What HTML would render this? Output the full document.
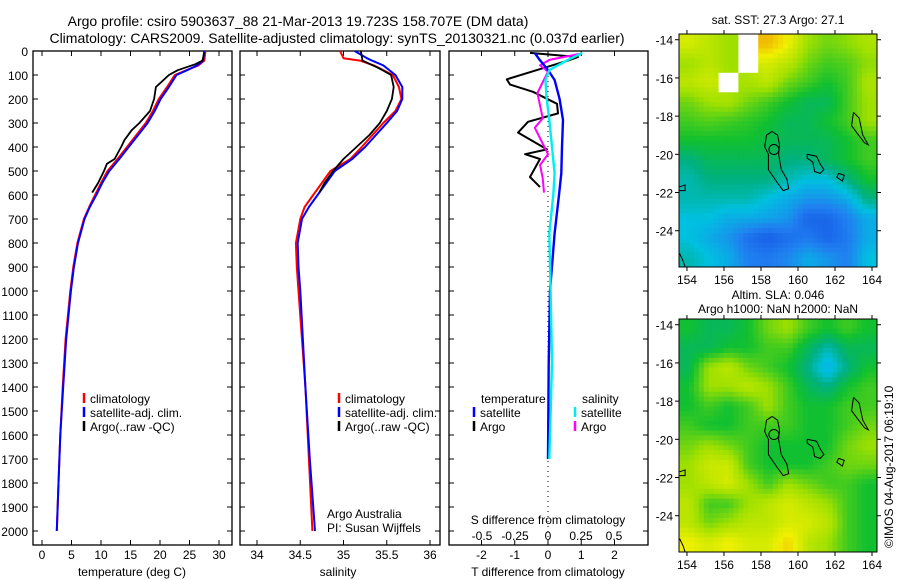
<!DOCTYPE html>
<html><head><meta charset="utf-8">
<style>
html,body{margin:0;padding:0;background:#fff;}
svg{display:block;font-family:"Liberation Sans","DejaVu Sans",sans-serif;}
text{fill:#000;}
</style></head>
<body>
<svg id="fig" width="900" height="580" viewBox="0 0 900 580" xmlns="http://www.w3.org/2000/svg">
<text x="298" y="26" font-size="14" text-anchor="middle">Argo profile: csiro 5903637_88 21-Mar-2013 19.723S 158.707E (DM data)</text>
<text x="337" y="43" font-size="14" text-anchor="middle">Climatology: CARS2009. Satellite-adjusted climatology: synTS_20130321.nc (0.037d earlier)</text>
<g id="g1"></g>
<g id="g2"></g>
<g id="g3"></g>
<g id="m1"></g>
<g id="m2"></g>
<text x="778" y="24" font-size="12" text-anchor="middle">sat. SST: 27.3 Argo: 27.1</text>
<text x="778" y="299" font-size="12" text-anchor="middle">Altim. SLA: 0.046</text>
<text x="778" y="313" font-size="12" text-anchor="middle">Argo h1000: NaN h2000: NaN</text>
<text transform="translate(893,548) rotate(-90)" font-size="12">©IMOS 04-Aug-2017 06:19:10</text>
</svg>
<script>
// ---- data ----
const depthTicks=[0,100,200,300,400,500,600,700,800,900,1000,1100,1200,1300,1400,1500,1600,1700,1800,1900,2000];
const tempTicks=[0,5,10,15,20,25,30];
const salTicks=[34,34.5,35,35.5,36];
const tdTicks=[-2,-1,0,1,2];
const sdTicks=[-0.5,-0.25,0,0.25,0.5];
const sdTickLabels=["-0.5","-0.25","0","0.25","0.5"];
const climTdepth=[0,40,60,80,100,150,200,250,300,350,400,450,500,550,600,650,700,800,900,1000,1200,1400,1600,1800,2000];
const climT=[27.7,27.5,26.5,24.5,22.5,21.2,19.8,18.8,17.6,16,14.4,12.8,11.1,10,9,8,7.1,6,5.3,4.8,4,3.5,3.1,2.8,2.5];
const satT=[27.5,27.3,26.3,24.6,22.8,21.5,20.1,19.1,17.9,16.3,14.7,13.1,11.4,10.2,9.2,8.1,7.2,6.1,5.4,4.9,4.1,3.6,3.1,2.8,2.5];
const argoTdepth=[5,40,55,80,100,130,150,200,250,300,330,370,400,450,470,500,550,590];
const argoT=[27.5,27.2,26,23,21.5,20.2,19.3,19,18.3,16.5,15.2,14,13.4,12.3,11,10.5,9.5,8.5];
const salDepth=[0,30,40,60,100,150,200,250,300,400,450,500,600,650,700,800,900,1000,1400,1700,2000];
const climS=[34.96,35.0,35.19,35.35,35.57,35.64,35.67,35.6,35.46,35.21,35.08,34.85,34.65,34.55,34.5,34.45,34.46,34.48,34.56,34.6,34.64];
const satS=[35.13,35.27,35.33,35.46,35.6,35.68,35.68,35.62,35.5,35.25,35.1,34.9,34.7,34.6,34.52,34.47,34.48,34.5,34.56,34.61,34.67];
const argoSdepth=[0,40,70,100,150,200,250,300,350,400,450,500,550,590];
const argoS=[35.2,35.22,35.4,35.55,35.58,35.56,35.5,35.42,35.3,35.15,35.0,34.88,34.78,34.72];
const diffDepth=[8,37,79,121,200,287,400,510,600,760,1000,1300,1700];
const satTdiff=[-0.4,-0.25,0,0.2,0.35,0.45,0.42,0.4,0.33,0.2,0.06,0.02,0];
const satSdiff=[0.26,0.15,0.01,-0.02,-0.01,0.01,0.03,0.05,0.04,0.01,0.02,0.03,0.01];
const argoTdDepth=[8,25,40,76,118,140,170,220,260,295,340,410,430,450,525,567];
const argoTdiff=[-0.54,0.9,0.6,-0.25,-1.24,-1.14,-0.45,0.27,0.3,-0.6,-0.9,-0.03,-0.69,-0.24,-0.54,-0.24];
const argoSdDepth=[12,37,60,86,175,280,320,430,475,530,590];
const argoSdiff=[0.24,0.01,-0.06,0,-0.08,-0.04,-0.1,0,-0.06,-0.04,-0.03];
const lonTicks=[154,156,158,160,162,164];
const latTicks=[-14,-16,-18,-20,-22,-24];
// map grids: 10 lon cols x 12 lat rows, 0=deep blue ... 1=orange, -1 = missing
const sstGrid=[
[0.8,0.75,0.7,-1,0.95,0.85,0.7,0.65,0.68,0.72],
[0.7,0.75,0.7,-1,0.8,0.75,0.65,0.6,0.62,0.68],
[0.75,0.78,-1,0.72,0.75,0.65,0.6,0.55,0.6,0.72],
[0.65,0.7,0.72,0.65,0.6,0.55,0.5,0.5,0.6,0.7],
[0.6,0.62,0.6,0.58,0.55,0.5,0.5,0.55,0.6,0.7],
[0.55,0.55,0.55,0.55,0.52,0.5,0.5,0.5,0.55,0.6],
[0.45,0.5,0.5,0.5,0.5,0.45,0.45,0.5,0.55,0.6],
[0.4,0.45,0.45,0.45,0.45,0.4,0.35,0.35,0.45,0.55],
[0.4,0.4,0.4,0.4,0.35,0.3,0.25,0.25,0.3,0.45],
[0.35,0.35,0.3,0.3,0.28,0.25,0.12,0.12,0.2,0.3],
[0.35,0.3,0.25,0.15,0.1,0.15,0.18,0.12,0.18,0.3],
[0.4,0.35,0.3,0.2,0.18,0.22,0.3,0.25,0.2,0.35]];
const slaGrid=[
[0.55,0.5,0.5,0.55,0.65,0.7,0.6,0.55,0.6,0.55],
[0.5,0.5,0.55,0.55,0.6,0.6,0.5,0.4,0.5,0.5],
[0.5,0.7,0.75,0.65,0.6,0.55,0.45,0.3,0.45,0.55],
[0.55,0.7,0.7,0.75,0.7,0.6,0.5,0.45,0.55,0.6],
[0.55,0.6,0.55,0.6,0.7,0.6,0.55,0.55,0.6,0.6],
[0.6,0.55,0.55,0.6,0.6,0.6,0.55,0.55,0.6,0.65],
[0.65,0.7,0.65,0.6,0.55,0.55,0.55,0.55,0.65,0.7],
[0.7,0.78,0.78,0.6,0.55,0.55,0.55,0.6,0.65,0.65],
[0.7,0.75,0.8,0.7,0.6,0.7,0.65,0.6,0.6,0.55],
[0.75,0.6,0.6,0.7,0.75,0.8,0.75,0.7,0.6,0.55],
[0.75,0.65,0.7,0.75,0.75,0.8,0.8,0.75,0.6,0.55],
[0.85,0.8,0.85,0.8,0.8,0.9,0.75,0.7,0.6,0.55]];
const coastA=[[158.6,-18.8],[158.9,-19.0],[159.0,-19.5],[158.95,-20.0],[159.1,-20.8],[159.4,-21.3],[159.5,-21.8],[159.2,-21.9],[158.9,-21.5],[158.4,-20.8],[158.4,-20.0],[158.2,-19.6],[158.3,-19.0],[158.6,-18.8]];
const coastB=[[160.5,-20.0],[161,-20.1],[161.2,-20.5],[161.4,-20.8],[161.2,-21.0],[160.9,-20.9],[160.8,-20.4],[160.5,-20.2],[160.5,-20.0]];
const coastC=[[163.0,-17.8],[163.3,-18.1],[163.5,-19.0],[163.8,-19.5],[163.6,-19.4],[163.2,-18.9],[162.9,-18.5],[163.0,-17.8]];
const coastD=[[162.2,-21.0],[162.5,-21.1],[162.4,-21.4],[162.1,-21.2],[162.2,-21.0]];
const coastE=[[153.6,-21.7],[153.9,-21.6],[153.9,-21.9],[153.6,-21.9]];
const coastF=[[153.6,-25.2],[153.8,-25.6],[153.9,-25.9]];

// ---- helpers ----
const NS="http://www.w3.org/2000/svg";
function mk(parent,tag,attrs){const e=document.createElementNS(NS,tag);for(const k in attrs)e.setAttribute(k,attrs[k]);parent.appendChild(e);return e;}
const TOP=51,BOT=545;
const yD=d=>TOP+d*0.24;
function panel(g,x0,x1,name){
  const r=mk(g,'rect',{x:x0,y:TOP,width:x1-x0,height:BOT-TOP,fill:'none',stroke:'#000','stroke-width':1.3});
  
  
  depthTicks.forEach(d=>{
    mk(g,'line',{x1:x0,x2:x0+5,y1:yD(d),y2:yD(d),stroke:'#000'});
    mk(g,'line',{x1:x1-5,x2:x1,y1:yD(d),y2:yD(d),stroke:'#000'});
  });
}
function xticks(g,ticks,fx,labels,ly){
  ticks.forEach((t,i)=>{
    const x=fx(t);
    mk(g,'line',{x1:x,x2:x,y1:TOP,y2:TOP+5,stroke:'#000'});
    mk(g,'line',{x1:x,x2:x,y1:BOT-5,y2:BOT,stroke:'#000'});
    if(labels){const t2=mk(g,'text',{x:x,y:ly,'font-size':12,'text-anchor':'middle'});t2.textContent=labels[i];
      
      }
  });
}
function line(g,xs,ds,fx,color,w,name,dash){
  const pts=xs.map((v,i)=>fx(v).toFixed(1)+','+yD(ds[i]).toFixed(1)).join(' ');
  const p=mk(g,'polyline',{points:pts,fill:'none',stroke:color,'stroke-width':w,'stroke-linejoin':'round'});
  if(dash)p.setAttribute('stroke-dasharray',dash);
  
  
}
function txt(g,x,y,s,name,anchor){const t=mk(g,'text',{x:x,y:y,'font-size':12,'text-anchor':anchor||'start'});t.textContent=s;
  
  
  return t;}
function legend(g,x,y,color,label,name){
  const l=mk(g,'line',{x1:x,x2:x,y1:y-10,y2:y,stroke:color,'stroke-width':2.5});
  
  
  txt(g,x+6,y,label,name);
}

// ---- panel 1: temperature ----
const g1=document.getElementById('g1');
const fT=t=>42+t*5.9;
panel(g1,33,232,'temperature');
xticks(g1,tempTicks,fT,tempTicks.map(String),559);
depthTicks.forEach(d=>txt(g1,28,yD(d)+5,String(d),'y-tick-label','end'));
line(g1,climT,climTdepth,fT,'#f00',2,'temp-climatology-line');
line(g1,satT,climTdepth,fT,'#00f',2,'temp-satellite-line');
line(g1,argoT,argoTdepth,fT,'#000',1.8,'temp-argo-line');
txt(g1,132,576,'temperature (deg C)','x-axis-title-temperature','middle');
legend(g1,84,403,'#f00','climatology','legend-climatology');
legend(g1,84,417,'#00f','satellite-adj. clim.','legend-satellite');
legend(g1,84,431,'#000','Argo(..raw -QC)','legend-argo');

// ---- panel 2: salinity ----
const g2=document.getElementById('g2');
const fS=s=>257+(s-34)*86.5;
panel(g2,240,440,'salinity');
xticks(g2,salTicks,fS,salTicks.map(String),559);
line(g2,climS,salDepth,fS,'#f00',2,'sal-climatology-line');
line(g2,satS,salDepth,fS,'#00f',2,'sal-satellite-line');
line(g2,argoS,argoSdepth,fS,'#000',1.8,'sal-argo-line');
txt(g2,338,576,'salinity','x-axis-title-salinity','middle');
legend(g2,339,403,'#f00','climatology','legend-climatology-2');
legend(g2,339,417,'#00f','satellite-adj. clim.','legend-satellite-2');
legend(g2,339,431,'#000','Argo(..raw -QC)','legend-argo-2');
txt(g2,327,518,'Argo Australia','argo-australia-label');
txt(g2,327,532,'PI: Susan Wijffels','pi-label');

// ---- panel 3: differences ----
const g3=document.getElementById('g3');
const fTd=v=>548+v*33.25;
const fSd=v=>548+v*132;
panel(g3,449,648,'difference');
xticks(g3,tdTicks,fTd,tdTicks.map(String),559);
sdTicks.forEach((v,i)=>txt(g3,fSd(v),540,sdTickLabels[i],'s-tick-label','middle'));
const z=mk(g3,'line',{x1:548,x2:548,y1:TOP,y2:BOT,stroke:'#000','stroke-dasharray':'1,4'});


line(g3,argoTdiff,argoTdDepth,fTd,'#000',2,'argo-t-diff-line');
line(g3,argoSdiff,argoSdDepth,fSd,'#f0f',2,'argo-s-diff-line');
line(g3,satTdiff,diffDepth,fTd,'#00f',2.4,'satellite-t-diff-line');
line(g3,satSdiff,diffDepth,fSd,'#0ee',2.4,'satellite-s-diff-line');
txt(g3,481,403,'temperature','legend-temperature-header');
legend(g3,474,417,'#00f','satellite','legend-t-satellite');
legend(g3,474,431,'#000','Argo','legend-t-argo');
txt(g3,582,403,'salinity','legend-salinity-header');
legend(g3,575,417,'#0ee','satellite','legend-s-satellite');
legend(g3,575,431,'#f0f','Argo','legend-s-argo');
txt(g3,548,524,'S difference from climatology','s-axis-title','middle');
txt(g3,548,576,'T difference from climatology','t-axis-title','middle');

// ---- maps ----
const stops=[[0,[16,64,224]],[0.2,[32,128,240]],[0.35,[0,192,224]],[0.45,[0,176,128]],[0.55,[16,192,48]],[0.7,[160,224,0]],[0.85,[240,240,0]],[1,[240,160,0]]];
function cmap(v){
  if(v<0)return '#fff';
  for(let i=1;i<stops.length;i++){if(v<=stops[i][0]){const a=stops[i-1],b=stops[i],t=(v-a[0])/(b[0]-a[0]);
    return 'rgb('+a[1].map((c,k)=>Math.round(c+(b[1][k]-c)*t)).join(',')+')';}}
  return 'rgb(240,160,0)';
}
function sample(grid,fr,fc){
  const nr=grid.length,nc=grid[0].length;
  const r=Math.min(Math.max(fr,0),nr-1),c=Math.min(Math.max(fc,0),nc-1);
  const r0=Math.floor(r),c0=Math.floor(c),r1=Math.min(r0+1,nr-1),c1=Math.min(c0+1,nc-1);
  const nearest=grid[Math.round(r)][Math.round(c)];
  if(nearest<0)return -1;
  const vals=[[grid[r0][c0],(1-(r-r0))*(1-(c-c0))],[grid[r0][c1],(1-(r-r0))*(c-c0)],[grid[r1][c0],(r-r0)*(1-(c-c0))],[grid[r1][c1],(r-r0)*(c-c0)]];
  let s=0,w=0;vals.forEach(([v,wt])=>{if(v>=0){s+=v*wt;w+=wt;}});
  return w>0?s/w:nearest;
}
function drawMap(id,top,grid,name){
  const g=document.getElementById(id);
  const L=679,R=877,B=top+233,lon0=153.57,lon1=164.27,lat0=-13.7,lat1=-25.9;
  const fx=lon=>L+(lon-lon0)/(lon1-lon0)*(R-L);
  const fy=lat=>top+(lat0-lat)/(lat0-lat1)*(B-top);
  const nr=grid.length,nc=grid[0].length,sub=4;
  const cw=(R-L)/(nc*sub),ch=(B-top)/(nr*sub);
  for(let r=0;r<nr*sub;r++)for(let c=0;c<nc*sub;c++){
    const v=sample(grid,(r+0.5)/sub-0.5,(c+0.5)/sub-0.5);
    const cell=mk(g,'rect',{x:(L+c*cw).toFixed(1),y:(top+r*ch).toFixed(1),width:(cw+0.5).toFixed(1),height:(ch+0.5).toFixed(1),fill:cmap(v)});
    
    
  }
  [coastA,coastB,coastC,coastD,coastE,coastF].forEach(cs=>{
    const p=mk(g,'polyline',{points:cs.map(q=>fx(q[0]).toFixed(1)+','+fy(q[1]).toFixed(1)).join(' '),fill:'none',stroke:'#000','stroke-width':1});
    
    
  });
  const c=mk(g,'circle',{cx:fx(158.7),cy:fy(-19.75),r:5,fill:'none',stroke:'#000'});
  
  
  const fr=mk(g,'rect',{x:L,y:top,width:R-L,height:B-top,fill:'none',stroke:'#000'});
  
  
  lonTicks.forEach(lon=>{const x=fx(lon);
    mk(g,'line',{x1:x,x2:x,y1:top,y2:top-4,stroke:'#000'});
    mk(g,'line',{x1:x,x2:x,y1:B,y2:B+4,stroke:'#000'});
    txt(g,x,B+17,String(lon),'lon-tick-label','middle');});
  latTicks.forEach(lat=>{const y=fy(lat);
    mk(g,'line',{x1:L,x2:L-4,y1:y,y2:y,stroke:'#000'});
    mk(g,'line',{x1:R,x2:R+4,y1:y,y2:y,stroke:'#000'});
    txt(g,L-6,y+5,String(lat),'lat-tick-label','end');});
}
drawMap('m1',34,sstGrid,'sst');
drawMap('m2',319,slaGrid,'sla');
</script>
</body></html>
